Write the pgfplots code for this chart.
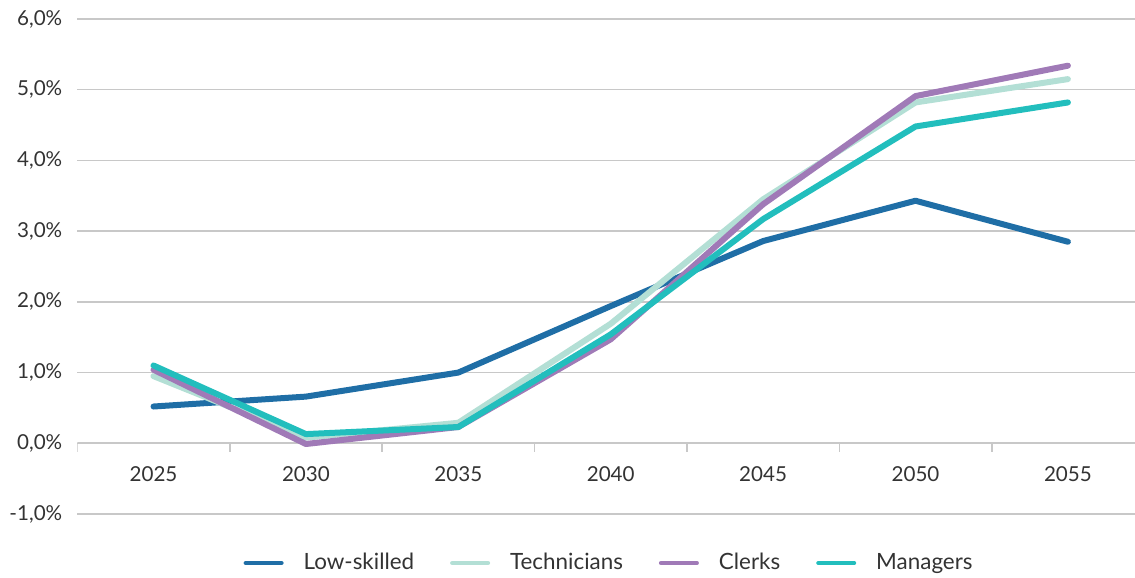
\documentclass[border=0pt]{standalone}
\usepackage{fontspec}
\setmainfont{Lato}
\usepackage{pgfplots}
\pgfplotsset{compat=1.18}
\definecolor{lowc}{HTML}{1F6EA6}
\definecolor{techc}{HTML}{B3DFD5}
\definecolor{clerkc}{HTML}{A07AB7}
\definecolor{manc}{HTML}{22BEBD}
\definecolor{gridc}{HTML}{C8C8C8}
\definecolor{txt}{HTML}{333333}
\begin{document}
\begin{tikzpicture}
\begin{axis}[
  scale only axis, width=529.6pt, height=247.5pt,
  xmin=-0.5, xmax=6.45, ymin=-1, ymax=6,
  axis line style={draw=none},
  ytick={-1,0,1,2,3,4,5,6},
  yticklabels={{-1,0\%},{0,0\%},{1,0\%},{2,0\%},{3,0\%},{4,0\%},{5,0\%},{6,0\%}},
  ymajorgrids, grid style={gridc, line width=0.7pt},
  major tick length=0pt,
  xtick={0,1,2,3,4,5,6}, xticklabels={2025,2030,2035,2040,2045,2050,2055},
  tick label style={font=\fontsize{10.3}{12}\selectfont, text=txt},
  yticklabel style={xshift=-4pt},
  xticklabel style={anchor=base, yshift=16.5pt},
  legend columns=4,
  legend style={at={(0.503,-0.099)}, anchor=center, draw=none, fill=none,
    font=\fontsize{11.2}{13}\selectfont, text=txt,
    /tikz/every odd column/.append style={column sep=8pt},
    /tikz/every even column/.append style={column sep=16pt}},
  legend image code/.code={\draw[line width=2pt] (0pt,0pt) -- (18pt,0pt);},
  every axis plot/.append style={line width=3pt, line cap=round, line join=round},
]
\draw[gridc, line width=0.8pt] (axis cs:-0.5,0) -- (axis cs:6.45,0);
\pgfplotsinvokeforeach{-0.5,0.5,1.5,2.5,3.5,4.5,5.5}{\draw[gridc, line width=0.8pt] (axis cs:#1,0) -- ++(0pt,-4.5pt);}
\addplot[lowc] coordinates {(0,0.52) (1,0.66) (2,1.00) (3,1.94) (4,2.86) (5,3.43) (6,2.85)};
\addlegendentry{Low-skilled}
\addplot[techc] coordinates {(0,0.95) (1,0.08) (2,0.29) (3,1.69) (4,3.45) (5,4.82) (6,5.15)};
\addlegendentry{Technicians}
\addplot[clerkc] coordinates {(0,1.04) (1,-0.01) (2,0.23) (3,1.47) (4,3.38) (5,4.91) (6,5.34)};
\addlegendentry{Clerks}
\addplot[manc] coordinates {(0,1.10) (1,0.13) (2,0.23) (3,1.54) (4,3.17) (5,4.48) (6,4.82)};
\addlegendentry{Managers}
\end{axis}
\pgfresetboundingbox
\path[use as bounding box] (-38.65pt,-32pt) rectangle (528.85pt,257pt);
\end{tikzpicture}
\end{document}
